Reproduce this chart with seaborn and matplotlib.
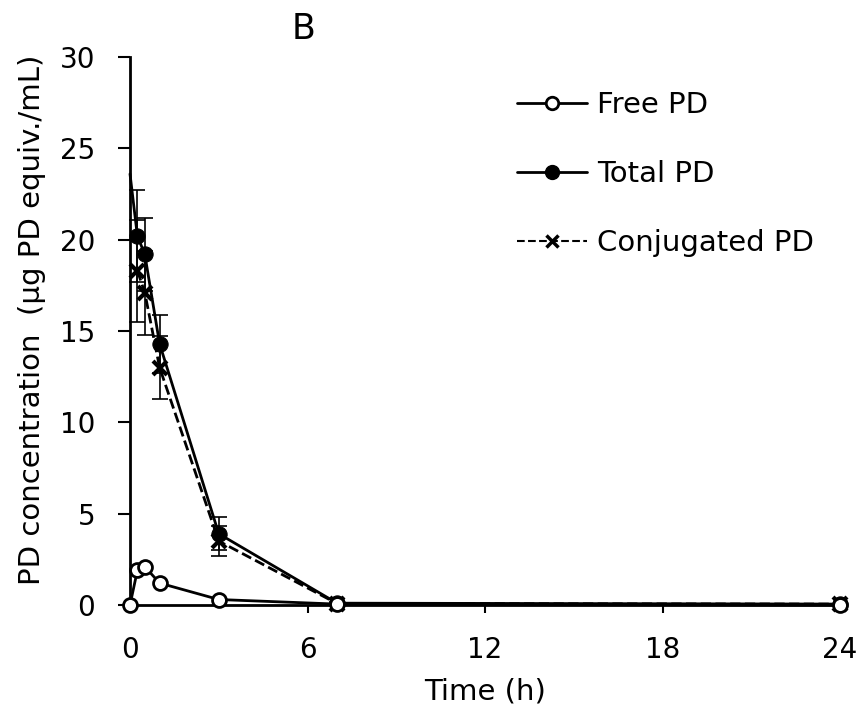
import numpy as np
import pandas as pd
import matplotlib
matplotlib.use("Agg")
import matplotlib.pyplot as plt
from matplotlib.lines import Line2D
import seaborn as sns

time_free = [0, 0.25, 0.5, 1, 3, 7, 24]
free_pd = [0.0, 1.9, 2.1, 1.2, 0.3, 0.05, 0.0]

time_total = [0, 0.25, 0.5, 1, 3, 7, 24]
total_pd = [23.6, 20.2, 19.2, 14.3, 3.9, 0.1, 0.05]
total_err = [0, 2.5, 2.0, 1.6, 0.9, 0.05, 0.02]

time_conj = [0.25, 0.5, 1, 3, 7, 24]
conj_pd = [18.3, 17.1, 13.0, 3.5, 0.08, 0.05]
conj_err = [2.8, 2.3, 1.7, 0.8, 0.05, 0.02]

xticks = [0, 6, 12, 18, 24]
yticks = [0, 5, 10, 15, 20, 25, 30]

sns.set_style("white")
plt.rcParams['font.family'] = ['DejaVu Sans']
plt.rcParams['text.color'] = 'black'
plt.rcParams['axes.labelcolor'] = 'black'
plt.rcParams['xtick.color'] = 'black'
plt.rcParams['ytick.color'] = 'black'

fig = plt.figure(figsize=(8.63, 7.18), dpi=100)
ax = fig.add_axes([130/863, 1-605/718, 710/863, 548/718])

df_free = pd.DataFrame({"t": time_free, "v": free_pd})
df_total = pd.DataFrame({"t": time_total, "v": total_pd, "e": total_err})
df_conj = pd.DataFrame({"t": time_conj, "v": conj_pd, "e": conj_err})

# error bars
ax.errorbar(df_total["t"][1:], df_total["v"][1:], yerr=df_total["e"][1:], fmt='none',
            ecolor='black', elinewidth=1.2, capsize=6, capthick=1.2, zorder=2, clip_on=False)
ax.errorbar(df_conj["t"], df_conj["v"], yerr=df_conj["e"], fmt='none',
            ecolor='black', elinewidth=1.2, capsize=6, capthick=1.2, zorder=2, clip_on=False)

sns.lineplot(data=df_conj, x="t", y="v", ax=ax, color='black', linestyle='--', linewidth=2,
             marker='x', markersize=10, markeredgewidth=3, markeredgecolor='black', zorder=3,
             legend=False, clip_on=False)
sns.lineplot(data=df_total, x="t", y="v", ax=ax, color='black', linestyle='-', linewidth=2,
             marker='o', markersize=11, markerfacecolor='black', markeredgecolor='black',
             markevery=list(range(1, len(time_total))), zorder=4, legend=False, clip_on=False)
sns.lineplot(data=df_free, x="t", y="v", ax=ax, color='black', linestyle='-', linewidth=2,
             marker='o', markersize=10, markerfacecolor='white', markeredgecolor='black',
             markeredgewidth=2, zorder=5, legend=False, clip_on=False)

ax.set_xlim(0, 24)
ax.set_ylim(0, 30)
ax.set_xticks(xticks)
ax.set_yticks(yticks)
ax.tick_params(axis='both', direction='out', width=1.5, labelsize=20, colors='black',
               left=True, bottom=True)
ax.tick_params(axis='x', length=6, pad=16)
ax.tick_params(axis='y', length=9, pad=16)
for s in ['top', 'right']:
    ax.spines[s].set_visible(False)
for s in ['left', 'bottom']:
    ax.spines[s].set_color('black')
    ax.spines[s].set_linewidth(2)

ax.set_xlabel("Time (h)", fontsize=21, labelpad=10, color='black')
ax.set_ylabel("PD concentration  (μg PD equiv./mL)", fontsize=21, labelpad=10, color='black')
ax.yaxis.label.set_y(0.52)
ax.set_title("B", fontsize=25, x=0.245, y=1.0, pad=13, color='black')

h_free = Line2D([], [], color='black', lw=2, marker='o', markersize=9, markerfacecolor='white',
                markeredgecolor='black', markeredgewidth=2)
h_total = Line2D([], [], color='black', lw=2, marker='o', markersize=10, markerfacecolor='black')
h_conj = Line2D([], [], color='black', lw=1.5, ls='--', marker='x', markersize=8, markeredgewidth=2.5)
ax.legend([h_free, h_total, h_conj], ['Free PD', 'Total PD', 'Conjugated PD'], loc='upper right',
          bbox_to_anchor=(1.0, 0.985), frameon=False, fontsize=21, handlelength=2.4,
          labelspacing=1.4, handletextpad=0.35)

fig.savefig("out.png", dpi=100)
